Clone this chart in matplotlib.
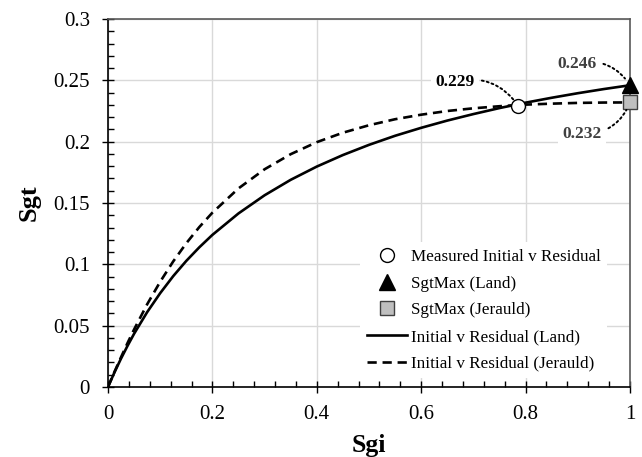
"""Initial vs residual gas saturation: Land and Jerauld trapping curves."""

import matplotlib

matplotlib.use("Agg")
import matplotlib.pyplot as plt
from matplotlib.ticker import FuncFormatter, MultipleLocator

plt.rcParams["font.family"] = ["Liberation Serif", "DejaVu Serif"]

# Curve values
sgi = [0.0, 0.0125, 0.025, 0.0375, 0.05, 0.075, 0.1, 0.125, 0.15, 0.175, 0.2,
       0.25, 0.3, 0.35, 0.4, 0.45, 0.5, 0.55, 0.6, 0.65, 0.7, 0.75, 0.8, 0.85,
       0.9, 0.95, 1.0]
sgt_land = [0.0, 0.0120, 0.0232, 0.0336, 0.0434, 0.0610, 0.0765, 0.0904,
            0.1028, 0.1139, 0.1240, 0.1415, 0.1563, 0.1689, 0.1797, 0.1891,
            0.1974, 0.2048, 0.2113, 0.2172, 0.2225, 0.2274, 0.2318, 0.2358,
            0.2395, 0.2429, 0.2460]
sgt_jerauld = [0.0, 0.0124, 0.0243, 0.0359, 0.0469, 0.0674, 0.0858, 0.1024,
               0.1172, 0.1304, 0.1421, 0.1619, 0.1775, 0.1898, 0.1996, 0.2073,
               0.2134, 0.2183, 0.2220, 0.2250, 0.2272, 0.2289, 0.2302, 0.2310,
               0.2316, 0.2319, 0.2320]

# Points
measured_x, measured_y = 0.786, 0.229
land_max_x, land_max_y = 1.0, 0.246
jerauld_max_x, jerauld_max_y = 1.0, 0.232

fig = plt.figure(figsize=(6.42, 4.57), dpi=100)
ax = fig.add_axes([0.1682, 0.1532, 0.8131, 0.8052])

ax.plot(sgi, sgt_land, color="black", lw=1.9, label="Initial v Residual (Land)", zorder=3)
ax.plot(sgi, sgt_jerauld, color="black", lw=1.9, ls=(0, (3.5, 2.2)),
        label="Initial v Residual (Jerauld)", zorder=3)

ax.plot([measured_x], [measured_y], "o", ms=10, mfc="white", mec="black", mew=1.0,
        ls="none", label="Measured Initial v Residual", zorder=4)
ax.plot([land_max_x], [land_max_y], "^", ms=11, mfc="black", mec="black",
        ls="none", label="SgtMax (Land)", zorder=5, clip_on=False)
ax.plot([jerauld_max_x], [jerauld_max_y], "s", ms=10, mfc="#bfbfbf", mec="#404040",
        mew=1.0, ls="none", label="SgtMax (Jerauld)", zorder=5, clip_on=False)

# Annotations with dotted curved leaders
dot = dict(arrowstyle="-", ls=(0, (1, 1.6)), lw=1.4, color="black", shrinkA=2, shrinkB=6)
box = dict(boxstyle="square,pad=0.25", fc="white", ec="none")
ax.annotate("0.229", xy=(measured_x, measured_y), xytext=(0.665, 0.2486),
            ha="center", va="center", fontsize=12.5, fontweight="bold", color="black",
            bbox=box, arrowprops=dict(dot, connectionstyle="arc3,rad=-0.35"), zorder=6)
ax.annotate("0.246", xy=(land_max_x, land_max_y), xytext=(0.898, 0.2635),
            ha="center", va="center", fontsize=12.5, fontweight="bold", color="#404040",
            bbox=box, arrowprops=dict(dot, connectionstyle="arc3,rad=-0.35"), zorder=6)
ax.annotate("0.232", xy=(jerauld_max_x, jerauld_max_y), xytext=(0.908, 0.2065),
            ha="center", va="center", fontsize=12.5, fontweight="bold", color="#404040",
            bbox=box, arrowprops=dict(dot, connectionstyle="arc3,rad=0.35"), zorder=6)

ax.set_xlim(0, 1)
ax.set_ylim(0, 0.3)
ax.xaxis.set_major_locator(MultipleLocator(0.2))
ax.xaxis.set_minor_locator(MultipleLocator(0.04))
ax.yaxis.set_major_locator(MultipleLocator(0.05))
ax.yaxis.set_minor_locator(MultipleLocator(0.01))
fmt = FuncFormatter(lambda v, _: f"{v:g}")
ax.xaxis.set_major_formatter(fmt)
ax.yaxis.set_major_formatter(fmt)

ax.tick_params(which="major", direction="inout", length=8, width=1.0, labelsize=15, pad=9)
ax.tick_params(which="minor", direction="in", length=4, width=1.0)
ax.tick_params(top=False, right=False, which="both")

ax.grid(True, which="major", color="#d9d9d9", lw=1.0, zorder=0)
ax.set_axisbelow(True)
for side in ("left", "bottom"):
    ax.spines[side].set_color("black")
    ax.spines[side].set_linewidth(1.2)
for side in ("top", "right"):
    ax.spines[side].set_color("#595959")
    ax.spines[side].set_linewidth(1.2)

ax.set_xlabel("Sgi", fontsize=18.5, fontweight="bold", labelpad=7)
ax.set_ylabel("Sgt", fontsize=19, fontweight="bold", labelpad=9)

handles, labels = ax.get_legend_handles_labels()
order = [2, 3, 4, 0, 1]
leg = ax.legend([handles[i] for i in order], [labels[i] for i in order],
                loc="center", bbox_to_anchor=(0.72, 0.208), fontsize=12.3,
                frameon=True, framealpha=1.0, edgecolor="none", fancybox=False,
                handlelength=2.35, handletextpad=0.2, labelspacing=0.62,
                borderpad=0.4)
leg.set_zorder(7)

fig.savefig("out.png", dpi=100)
